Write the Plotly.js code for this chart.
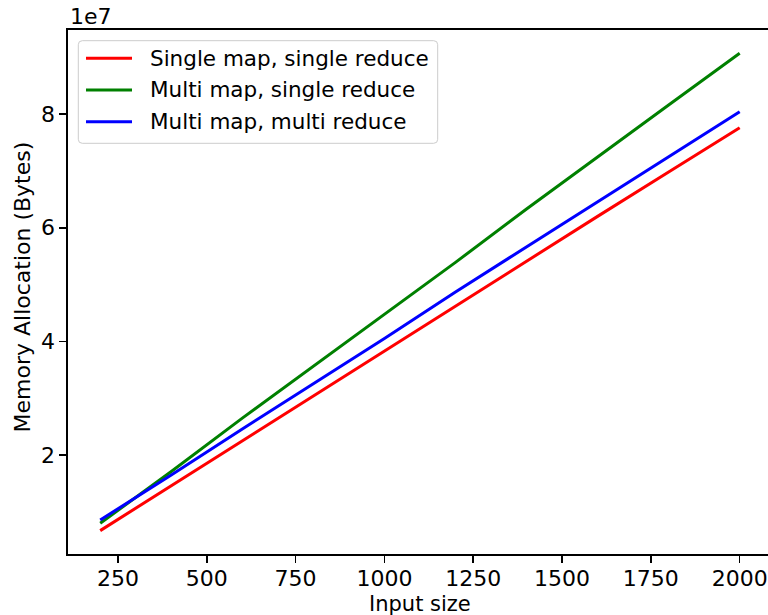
<!DOCTYPE html>
<html>
<head>
<meta charset="utf-8">
<script src="https://cdn.plot.ly/plotly-3.0.1.min.js"></script>
<style>html,body{margin:0;padding:0;background:#fff;}#chart{width:768px;height:615px;}</style>
</head>
<body>
<div id="chart"></div>
<script>
const inputSize = [200, 400, 600, 800, 1000, 1200, 1400, 1600, 1800, 2000];
const singleMapSingleReduce = [0.67e7, 1.46e7, 2.25e7, 3.04e7, 3.83e7, 4.62e7, 5.42e7, 6.20e7, 6.98e7, 7.76e7];
const multiMapSingleReduce = [0.80e7, 1.71e7, 2.65e7, 3.56e7, 4.47e7, 5.39e7, 6.33e7, 7.25e7, 8.16e7, 9.07e7];
const multiMapMultiReduce = [0.857e7, 1.65e7, 2.46e7, 3.25e7, 4.05e7, 4.87e7, 5.66e7, 6.45e7, 7.25e7, 8.04e7];
const seriesNames = ["Single map, single reduce", "Multi map, single reduce", "Multi map, multi reduce"];
const seriesColors = ["#ff0000", "#008000", "#0000ff"];
const yTickVals = [2e7, 4e7, 6e7, 8e7];
const yTickText = ["2", "4", "6", "8"];
const xTickVals = [250, 500, 750, 1000, 1250, 1500, 1750, 2000];
const xTitle = "Input size";
const yTitle = "Memory Allocation (Bytes)";

const font = {family: "DejaVu Sans", size: 22, color: "#000"};
const legendFont = {family: "DejaVu Sans", size: 21.5, color: "#000"};
const xTitleFont = {family: "DejaVu Sans", size: 21, color: "#000"};
const allSeries = [singleMapSingleReduce, multiMapSingleReduce, multiMapMultiReduce];
const traces = allSeries.map((ys, i) => ({
  x: inputSize, y: ys, type: "scatter", mode: "lines",
  name: seriesNames[i], showlegend: false,
  line: {color: seriesColors[i], width: 3}
}));

// plot area in pixels: left 68, top 30, width 700, height 524
const L = 68, T = 30, W = 700, H = 524;
const px = v => (v - L) / W;
const py = v => 1 - (v - T) / H;

// legend drawn as shapes + text (matplotlib-style rounded box)
const bx0 = px(78.3), bx1 = px(437.7), by0 = py(143.3), by1 = py(40.7);
const rx = 4 / W, ry = 4 / H;
const boxPath = `M ${bx0 + rx} ${by1} L ${bx1 - rx} ${by1} Q ${bx1} ${by1} ${bx1} ${by1 - ry} ` +
  `L ${bx1} ${by0 + ry} Q ${bx1} ${by0} ${bx1 - rx} ${by0} L ${bx0 + rx} ${by0} ` +
  `Q ${bx0} ${by0} ${bx0} ${by0 + ry} L ${bx0} ${by1 - ry} Q ${bx0} ${by1} ${bx0 + rx} ${by1} Z`;
const rowY = [58.3, 90.0, 121.7];
const shapes = [{
  type: "path", xref: "paper", yref: "paper", path: boxPath,
  fillcolor: "rgba(255,255,255,0.8)", line: {color: "#cccccc", width: 1}, layer: "above"
}];
const annotations = [
  {text: "1e7", xref: "paper", yref: "paper", x: 0, y: py(17),
   xanchor: "left", yanchor: "middle", showarrow: false, font: font},
  {text: xTitle, xref: "paper", yref: "paper", x: px(419.5), y: py(603.5),
   xanchor: "center", yanchor: "middle", showarrow: false, font: xTitleFont, borderpad: 0},
  {text: yTitle, xref: "paper", yref: "paper", x: px(21.5), y: py(287),
   xanchor: "center", yanchor: "middle", textangle: -90, showarrow: false, font: font}
];
seriesNames.forEach((n, i) => {
  shapes.push({
    type: "line", xref: "paper", yref: "paper",
    x0: px(86), x1: px(132), y0: py(rowY[i]), y1: py(rowY[i]),
    line: {color: seriesColors[i], width: 3}, layer: "above"
  });
  annotations.push({
    text: n, xref: "paper", yref: "paper", x: px(148.3), y: py(rowY[i]),
    xanchor: "left", yanchor: "middle", showarrow: false, font: legendFont
  });
});

const layout = {
  width: 768, height: 615,
  margin: {l: L, r: 0, t: T, b: 615 - T - H},
  paper_bgcolor: "#fff", plot_bgcolor: "#fff",
  font: font,
  showlegend: false,
  xaxis: {
    range: [109.3, 2079.7], tickvals: xTickVals,
    showgrid: false, zeroline: false,
    showline: true, linecolor: "#000", linewidth: 1.6, mirror: true,
    ticks: "outside", ticklen: 7, tickwidth: 1.6, tickcolor: "#000",
    tickfont: font, ticklabelstandoff: -3
  },
  yaxis: {
    range: [0.259e7, 9.479e7], tickvals: yTickVals, ticktext: yTickText,
    showgrid: false, zeroline: false,
    showline: true, linecolor: "#000", linewidth: 1.6, mirror: false,
    ticks: "outside", ticklen: 7, tickwidth: 1.6, tickcolor: "#000",
    tickfont: font
  },
  shapes: shapes,
  annotations: annotations
};
Plotly.newPlot("chart", traces, layout, {staticPlot: true, displayModeBar: false});
</script>
</body>
</html>
